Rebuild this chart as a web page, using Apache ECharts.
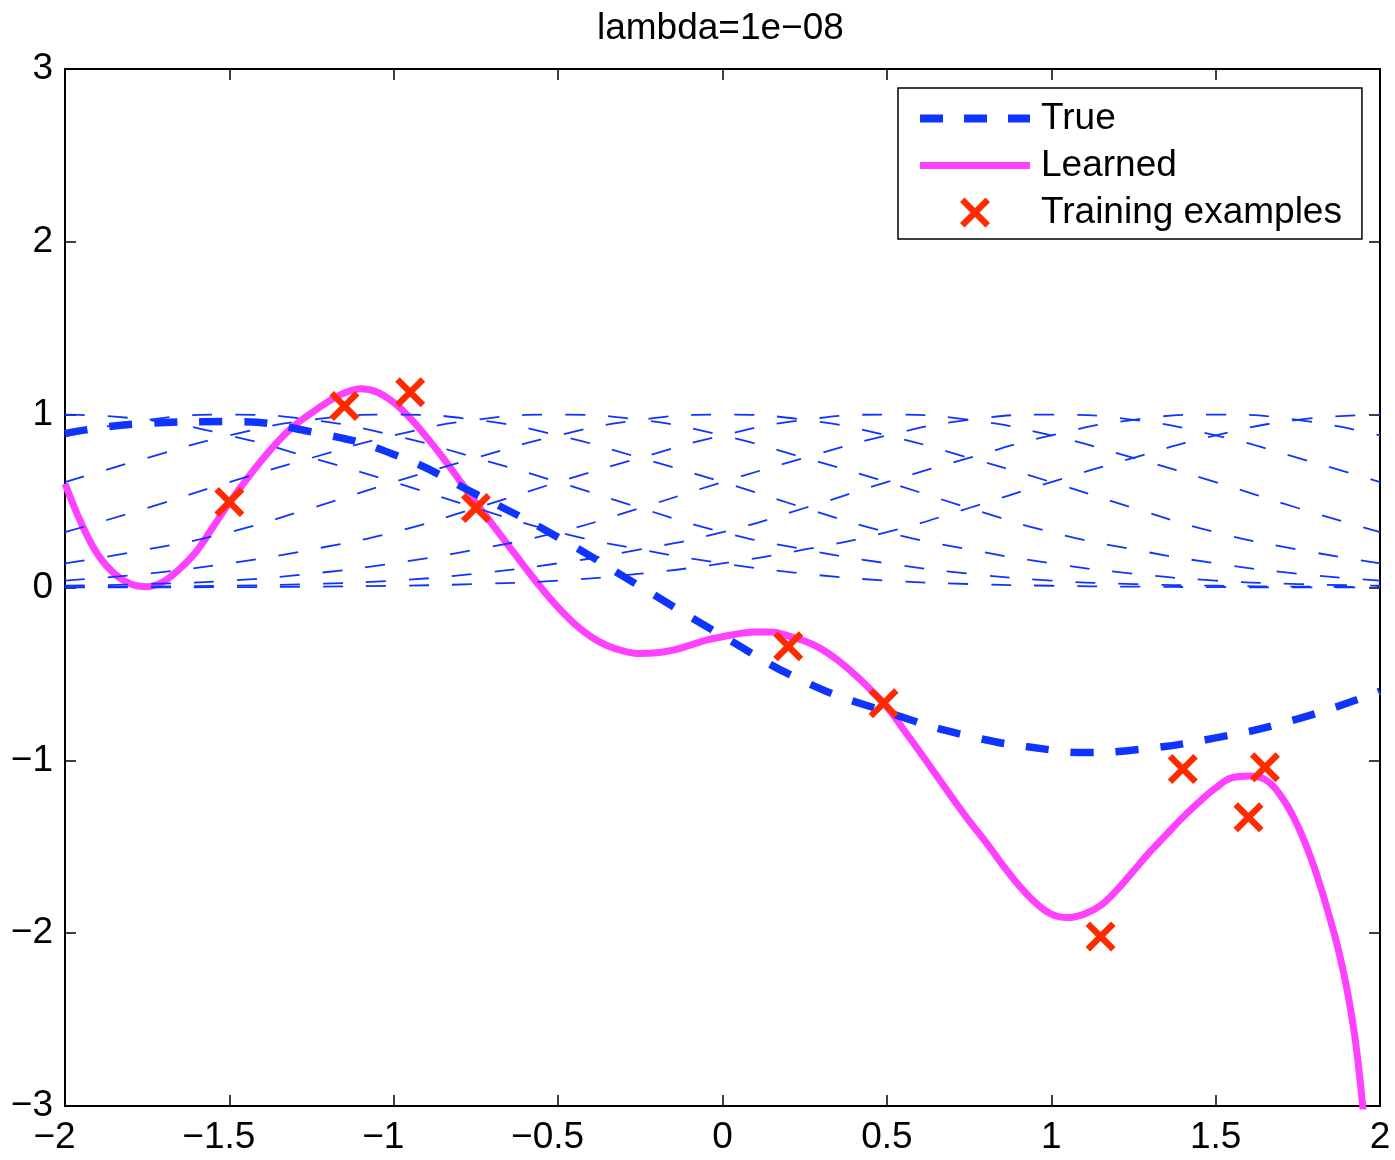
<!DOCTYPE html>
<html><head><meta charset="utf-8">
<script src="https://cdn.jsdelivr.net/npm/echarts@6/dist/echarts.min.js"></script>
<style>html,body{margin:0;padding:0;background:#fff}#c{width:1395px;height:1160px}</style>
</head><body><div id="c"></div>
<script>
// ---- data ----
const titleText = 'lambda=1e\u221208';
const xTicks = [-2, -1.5, -1, -0.5, 0, 0.5, 1, 1.5, 2];
const yTicks = [-3, -2, -1, 0, 1, 2, 3];

// thin dashed basis curves, sampled at basisX
const basisX = [-2, -1.75, -1.5, -1.25, -1, -0.75, -0.5, -0.25, 0, 0.25, 0.5, 0.75, 1, 1.25, 1.5, 1.75, 2];
const basisA = [1, 0.97, 0.88, 0.75, 0.61, 0.46, 0.32, 0.22, 0.14, 0.08, 0.04, 0.02, 0.01, 0.005, 0.002, 0.001, 0];
const basisB = [0.88, 0.97, 1, 0.97, 0.88, 0.75, 0.61, 0.46, 0.32, 0.22, 0.14, 0.08, 0.04, 0.02, 0.01, 0.005, 0.002];
const basisC = [0.61, 0.75, 0.88, 0.97, 1, 0.97, 0.88, 0.75, 0.61, 0.46, 0.32, 0.22, 0.14, 0.08, 0.04, 0.02, 0.01];
const basisD = [0.32, 0.46, 0.61, 0.75, 0.88, 0.97, 1, 0.97, 0.88, 0.75, 0.61, 0.46, 0.32, 0.22, 0.14, 0.08, 0.04];
const basisE = [0.14, 0.22, 0.32, 0.46, 0.61, 0.75, 0.88, 0.97, 1, 0.97, 0.88, 0.75, 0.61, 0.46, 0.32, 0.22, 0.14];
const basisF = [0.04, 0.08, 0.14, 0.22, 0.32, 0.46, 0.61, 0.75, 0.88, 0.97, 1, 0.97, 0.88, 0.75, 0.61, 0.46, 0.32];
const basisG = [0.01, 0.02, 0.04, 0.08, 0.14, 0.22, 0.32, 0.46, 0.61, 0.75, 0.88, 0.97, 1, 0.97, 0.88, 0.75, 0.61];
const basisH = [0.002, 0.005, 0.01, 0.02, 0.04, 0.08, 0.14, 0.22, 0.32, 0.46, 0.61, 0.75, 0.88, 0.97, 1, 0.97, 0.88];
const basisI = [0, 0.001, 0.002, 0.005, 0.01, 0.02, 0.04, 0.08, 0.14, 0.22, 0.32, 0.46, 0.61, 0.75, 0.88, 0.97, 1];

// True function (thick dashed)
const trueX = [-2, -1.75, -1.5, -1.25, -1, -0.75, -0.5, -0.25, 0, 0.25, 0.5, 0.75, 1, 1.1, 1.25, 1.5, 1.75, 2];
const trueY = [0.89, 0.95, 0.96, 0.90, 0.77, 0.54, 0.29, 0.005, -0.28, -0.545, -0.72, -0.86, -0.94, -0.955, -0.94, -0.87, -0.76, -0.60];

// Learned function (magenta)
const learnedX = [-2, -1.95, -1.9, -1.85, -1.8, -1.75, -1.7, -1.65, -1.6, -1.55, -1.5, -1.45, -1.4, -1.35, -1.3, -1.25, -1.2, -1.15, -1.1, -1.05, -1.0, -0.95, -0.9, -0.85, -0.8, -0.75, -0.7, -0.65, -0.6, -0.55, -0.5, -0.45, -0.4, -0.35, -0.3, -0.25, -0.2, -0.15, -0.1, -0.05, 0, 0.05, 0.1, 0.15, 0.2, 0.25, 0.3, 0.35, 0.4, 0.45, 0.5, 0.55, 0.6, 0.65, 0.7, 0.75, 0.8, 0.85, 0.9, 0.95, 1.0, 1.05, 1.1, 1.15, 1.2, 1.25, 1.3, 1.35, 1.4, 1.45, 1.5, 1.55, 1.6, 1.65, 1.7, 1.75, 1.8, 1.85, 1.875, 1.9, 1.925, 1.95];
const learnedY = [0.60, 0.37, 0.19, 0.08, 0.02, 0.005, 0.035, 0.11, 0.21, 0.35, 0.49, 0.62, 0.74, 0.85, 0.94, 1.01, 1.075, 1.125, 1.15, 1.13, 1.07, 0.98, 0.87, 0.75, 0.62, 0.49, 0.365, 0.24, 0.115, -0.005, -0.115, -0.21, -0.285, -0.337, -0.368, -0.382, -0.378, -0.362, -0.335, -0.305, -0.285, -0.267, -0.257, -0.258, -0.28, -0.31, -0.355, -0.42, -0.50, -0.59, -0.69, -0.82, -0.95, -1.085, -1.22, -1.35, -1.47, -1.60, -1.72, -1.82, -1.89, -1.91, -1.89, -1.84, -1.75, -1.64, -1.53, -1.43, -1.33, -1.24, -1.16, -1.10, -1.09, -1.11, -1.21, -1.38, -1.62, -1.93, -2.11, -2.33, -2.62, -3.05];

// Training examples
const trainX = [-1.50, -1.15, -0.95, -0.75, 0.20, 0.49, 1.15, 1.40, 1.60, 1.65];
const trainY = [0.495, 1.05, 1.13, 0.46, -0.34, -0.67, -2.02, -1.05, -1.33, -1.04];

// ---- chart ----
const FONT = '"Liberation Sans", Arial, Helvetica, sans-serif';
const FS = 37;
const BLUE = '#1034ff';
const MAG = '#ff40ff';
const RED = '#ff2a00';
const XSYM = 'path://M0,3 L3,0 L10,7 L17,0 L20,3 L13,10 L20,17 L17,20 L10,13 L3,20 L0,17 L7,10 Z';
const ICON_TRUE = 'path://M0,0h23v8h-23z M44,0h23v8h-23z M88,0h22v8h-22z';
const ICON_LEARNED = 'path://M0,0h110v7h-110z';

const zip = (xs, ys) => xs.map((x, i) => [x, ys[i]]);
const fmtNum = v => String(v).replace('-', '\u2212');

const basisSets = [basisA, basisB, basisC, basisD, basisE, basisF, basisG, basisH, basisI];
const basisSeries = basisSets.map((b, i) => ({
  type: 'line', name: 'basis' + i, data: zip(basisX, b), smooth: 0.5,
  symbol: 'none', silent: true, z: 4,
  lineStyle: { color: BLUE, width: 1.8, type: [20, 23] }
}));

const axisCommon = {
  type: 'value', splitLine: { show: false },
  axisLine: { show: true, onZero: false, lineStyle: { color: '#000', width: 2 } },
  axisTick: { show: true, inside: true, length: 11, lineStyle: { color: '#000', width: 1.5 } }
};

const option = {
  animation: false,
  backgroundColor: '#fff',
  title: { text: titleText, left: 592, top: 5,
    textStyle: { fontFamily: FONT, fontSize: FS, fontWeight: 'normal', color: '#000' } },
  grid: { left: 65, right: 15, top: 69, bottom: 54 },
  legend: {
    data: [
      { name: 'True', icon: ICON_TRUE },
      { name: 'Learned', icon: ICON_LEARNED },
      { name: 'Training examples', icon: XSYM }
    ],
    orient: 'vertical', left: 898, top: 88,
    padding: [12, 20, 8, 22], itemGap: 10, itemWidth: 110, itemHeight: 30,
    symbolKeepAspect: true,
    itemStyle: { borderWidth: 0 },
    borderColor: '#000', borderWidth: 1.5, backgroundColor: '#fff',
    textStyle: { fontFamily: FONT, fontSize: FS, color: '#000', padding: [0, 0, 0, 6] }
  },
  xAxis: [
    Object.assign({}, axisCommon, { min: -2, max: 2, interval: 0.5, position: 'bottom',
      axisLabel: { fontFamily: FONT, fontSize: FS, color: '#000', margin: 13,
        formatter: v => v < 0 ? '{m|\u2212}' + String(Math.abs(v)) + '{p|}' : String(v),
        rich: { m: { fontFamily: FONT, fontSize: FS, color: '#000' }, p: { width: 21 } } } }),
    Object.assign({}, axisCommon, { min: -2, max: 2, interval: 0.5, position: 'top',
      axisLabel: { show: false } })
  ],
  yAxis: [
    Object.assign({}, axisCommon, { min: -3, max: 3, interval: 1, position: 'left',
      axisLabel: { fontFamily: FONT, fontSize: FS, color: '#000', margin: 12, formatter: fmtNum } }),
    Object.assign({}, axisCommon, { min: -3, max: 3, interval: 1, position: 'right',
      axisLabel: { show: false } })
  ],
  series: [
    { type: 'line', name: 'Learned', data: zip(learnedX, learnedY), smooth: 0.4, symbol: 'none', z: 2,
      lineStyle: { color: MAG, width: 7 }, itemStyle: { color: MAG } },
    { type: 'line', name: 'True', data: zip(trueX, trueY), smooth: 0.5, symbol: 'none', z: 3,
      lineStyle: { color: BLUE, width: 7.5, type: [23, 22] }, itemStyle: { color: BLUE } },
    ...basisSeries,
    { type: 'scatter', name: 'Training examples', data: zip(trainX, trainY), symbol: XSYM, symbolSize: 30, z: 6,
      itemStyle: { color: RED, opacity: 1 } }
  ]
};

const chart = echarts.init(document.getElementById('c'), null, { renderer: 'canvas' });
chart.setOption(option);
</script>
</body></html>
